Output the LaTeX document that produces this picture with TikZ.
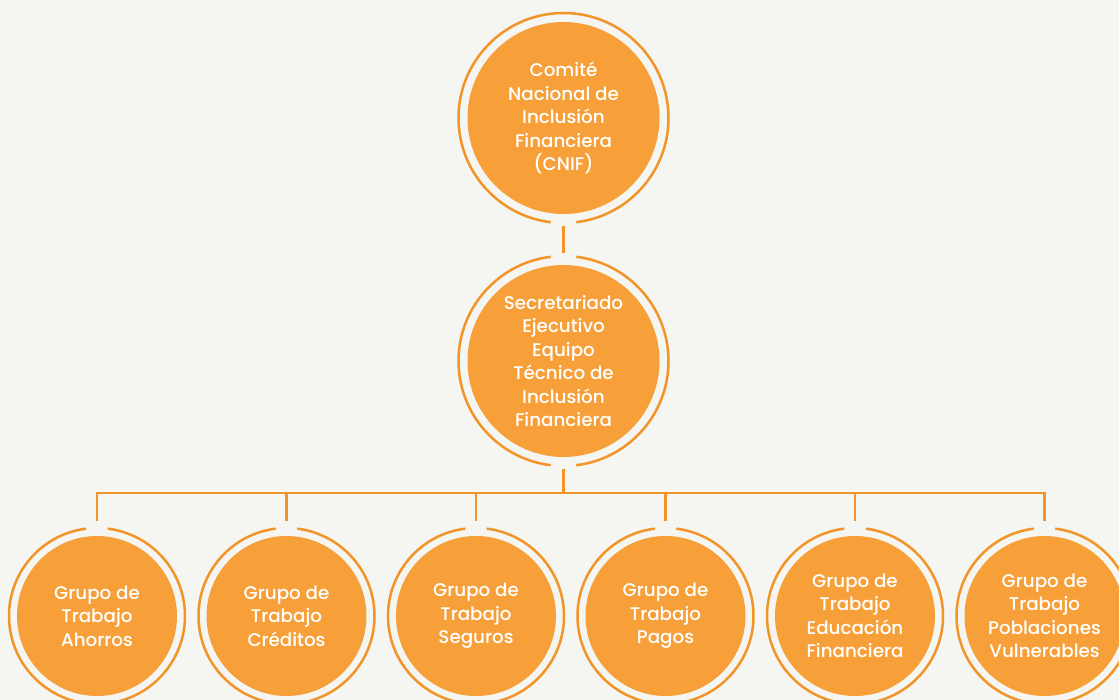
\documentclass[tikz,border=0pt]{standalone}
\usepackage{fontspec}
\setmainfont{Poppins}[UprightFont=* Medium]
\usepackage{tikz}
\usetikzlibrary{calc,positioning,shapes}
\definecolor{naranja}{RGB}{247,160,58}
\definecolor{linea}{RGB}{243,148,40}
\definecolor{fondo}{RGB}{245,245,241}
\tikzstyle{comite} = [circle, minimum size=192pt, inner sep=0pt, outer sep=12pt,
    fill=naranja, text=white, align=center,
    font=\fontsize{18.3pt}{23.5pt}\selectfont]
\tikzstyle{grupo} = [circle, minimum size=160pt, inner sep=0pt, outer sep=15pt,
    fill=naranja, text=white, align=center, node distance=189.5pt,
    font=\fontsize{18.3pt}{23.5pt}\selectfont]
\tikzstyle{ring} = [draw=linea, line width=2.5pt]
\tikzstyle{link} = [draw=linea, line width=2.5pt]

\begin{document}
\begin{tikzpicture}[x=1pt, y=1pt, node distance=243pt]
    \useasboundingbox (0,0) rectangle (1119,-700);
    \clip (0,0) rectangle (1119,-700);
    \fill[fondo] (0,0) rectangle (1119,-700);

    \node (cnif) [comite] at (563.5,-118) {Comité\\Nacional de\\Inclusión\\Financiera\\(CNIF)};
    \node (sec) [comite, below of=cnif] {Secretariado\\Ejecutivo\\Equipo\\Técnico de\\Inclusión\\Financiera};
    \coordinate (bus) at ($(sec.center)+(0,-132)$);

    \node (ahorros) [grupo] at (97,-616) {Grupo de\\Trabajo\\Ahorros};
    \node (creditos) [grupo, right of=ahorros] {Grupo de\\Trabajo\\Créditos};
    \node (seguros) [grupo, right of=creditos] {Grupo de\\Trabajo\\Seguros};
    \node (pagos) [grupo, right of=seguros] {Grupo de\\Trabajo\\Pagos};
    \node (educacion) [grupo, right of=pagos] {Grupo de\\Trabajo\\Educación\\Financiera};
    \node (vulnerables) [grupo, right of=educacion] {Grupo de\\Trabajo\\Poblaciones\\Vulnerables};

    % rings with a gap where the lines come in
    \draw [ring] ([shift={(-83:105pt)}]cnif.center) arc (-83:263:105pt);
    \draw [ring] ([shift={(97:105pt)}]sec.center) arc (97:263:105pt);
    \draw [ring] ([shift={(-83:105pt)}]sec.center) arc (-83:83:105pt);
    \foreach \g in {ahorros,creditos,seguros,pagos,educacion,vulnerables}
        \draw [ring] ([shift={(97:88pt)}]\g.center) arc (97:443:88pt);

    \draw [link] (cnif) -- (sec);
    \draw [link] (sec) -- (bus);
    \draw [link] (ahorros) |- (bus) -| (vulnerables);
    \draw [link] (creditos) -- (creditos |- bus);
    \draw [link] (seguros) -- (seguros |- bus);
    \draw [link] (pagos) -- (pagos |- bus);
    \draw [link] (educacion) -- (educacion |- bus);
\end{tikzpicture}
\end{document}
